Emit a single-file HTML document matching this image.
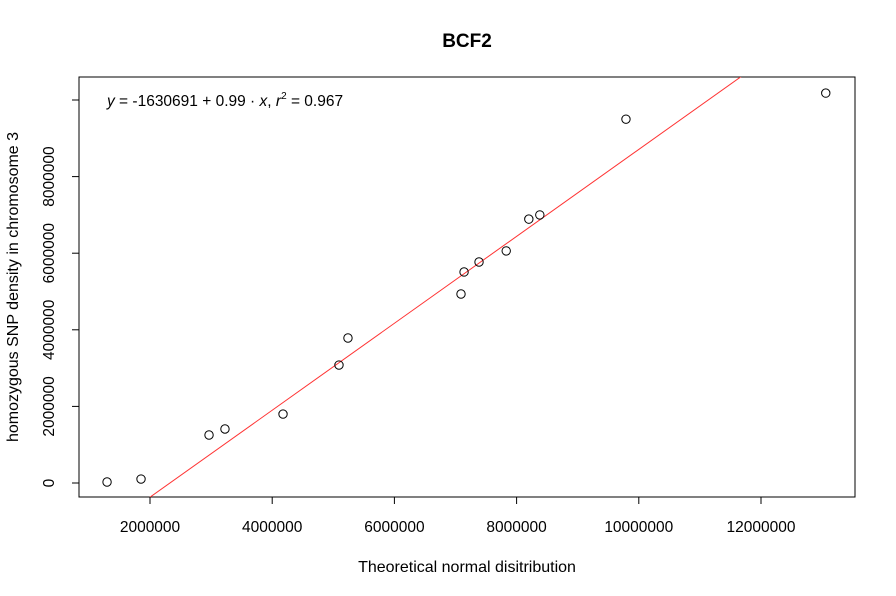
<!DOCTYPE html>
<html><head><meta charset="utf-8"><style>
body{margin:0;background:#fff;overflow:hidden;}
svg{display:block;}
svg text{font-family:"Liberation Sans",Arial,sans-serif;}
</style></head><body>
<svg id="chart" width="896" height="596" xmlns="http://www.w3.org/2000/svg">
<defs><clipPath id="pc"><rect x="79" y="77" width="776" height="420"/></clipPath></defs>
<text x="467" y="47" text-anchor="middle" font-size="19" font-weight="bold">BCF2</text>
<rect x="79" y="77" width="776" height="420" fill="none" stroke="#000" stroke-width="1"/>
<text x="467" y="572" text-anchor="middle" font-size="16">Theoretical normal disitribution</text>
<text transform="translate(18,287) rotate(-90)" text-anchor="middle" font-size="16">homozygous SNP density in chromosome 3</text>
<text x="107" y="106" font-size="15.5"><tspan font-style="italic">y</tspan> = -1630691 + 0.99 · <tspan font-style="italic">x</tspan>,  <tspan font-style="italic">r</tspan><tspan font-size="10" dy="-7">2</tspan><tspan dy="7"> = 0.967</tspan></text>
<g id="axes"></g>
<g id="marks"></g>
</svg>
<script>
const xTicks=[2000000,4000000,6000000,8000000,10000000,12000000];
const yTicks=[0,2000000,4000000,6000000,8000000,10000000];
const xVals=[1297000,1853000,2966000,3227000,4177000,5093000,5240000,7090000,7140000,7385000,7830000,8200000,8380000,9790000,13060000];
const yVals=[26000,104000,1253000,1410000,1800000,3080000,3786000,4935000,5510000,5770000,6060000,6890000,7000000,9500000,10180000];
const lineIntercept=-2640000;
const lineSlope=1.135;
const NS="http://www.w3.org/2000/svg";
function sx(v){return 150+(v-2000000)*122.2/2000000;}
function sy(v){return 483-v*76.6/2000000;}
const axes=document.getElementById('axes'),marks=document.getElementById('marks');
function mk(tag,a,parent){const e=document.createElementNS(NS,tag);for(const k in a)e.setAttribute(k,a[k]);parent.appendChild(e);return e;}
mk('line',{x1:sx(xTicks[0]),x2:sx(xTicks[xTicks.length-1]),y1:497,y2:497,stroke:'#000'},axes);
xTicks.forEach(t=>{
 const l=mk('line',{x1:sx(t),x2:sx(t),y1:497,y2:504,stroke:'#000'},axes);
 
 
 const tx=mk('text',{x:sx(t),y:532,'text-anchor':'middle','font-size':'15.5'},axes);tx.textContent=t;
 
 
});
mk('line',{x1:79,x2:79,y1:sy(yTicks[0]),y2:sy(8000000),stroke:'#000'},axes);
yTicks.forEach(t=>{
 const l=mk('line',{x1:72,x2:79,y1:sy(t),y2:sy(t),stroke:'#000'},axes);
 
 
 if(t<=8000000){
 const tx=mk('text',{transform:'translate(54,'+sy(t)+') rotate(-90)','text-anchor':'middle','font-size':'15.5'},axes);tx.textContent=t;
 
 }
});
const xa=0, xb=16000000;
const rl=mk('line',{x1:sx(xa),y1:sy(lineIntercept+lineSlope*xa),x2:sx(xb),y2:sy(lineIntercept+lineSlope*xb),stroke:'#ff3333','stroke-width':1,'clip-path':'url(#pc)'},marks);


xVals.forEach((v,i)=>{
 const c=mk('circle',{cx:sx(v),cy:sy(yVals[i]),r:4.2,fill:'none',stroke:'#000','stroke-width':1},marks);
 
 
});
</script>
</body></html>
